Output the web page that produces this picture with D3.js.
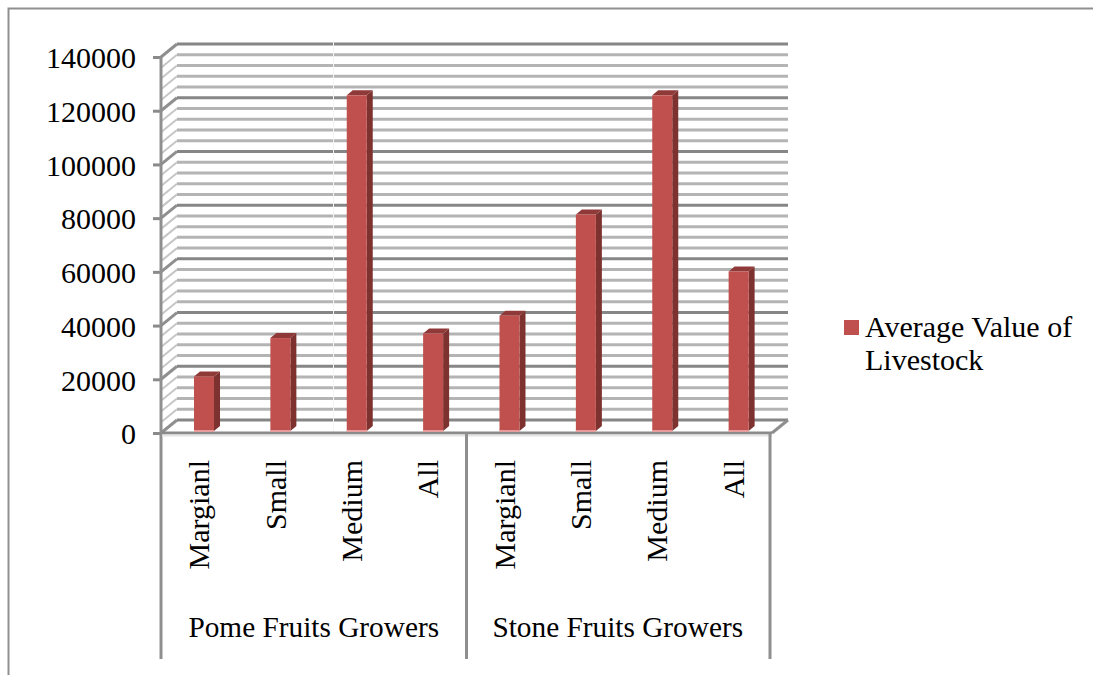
<!DOCTYPE html>
<html>
<head>
<meta charset="utf-8">
<script src="https://cdn.jsdelivr.net/npm/d3@7/dist/d3.min.js"></script>
<style>
html,body{margin:0;padding:0;background:#fff;overflow:hidden}
svg{display:block}
text{font-family:"Liberation Serif",serif;fill:#000}
</style>
</head>
<body>
<svg id="chart" width="1093" height="675"></svg>
<script>
const categories = ["Margianl","Small","Medium","All","Margianl","Small","Medium","All"];
const groups = ["Pome Fruits Growers","Stone Fruits Growers"];
const values = [20300,34600,125000,36300,42900,80600,125000,59400];
const seriesName = ["Average Value of","Livestock"];
const yTicks = [0,20000,40000,60000,80000,100000,120000,140000];
const minorStep = 4000;

const svg = d3.select("#chart");
const plotLeft = 161, plotRight = 772, plotTop = 57, plotBottom = 433, axisEnd = 659;
const depthX = 16, depthY = 13;          // offset of the back wall
const barDX = 6, barDY = 5;              // depth of each column
const fontSize = 30, groupFontSize = 29.3;

const y = d3.scaleLinear().domain([0,140000]).range([plotBottom,plotTop]);
const x = d3.scaleBand().domain(d3.range(categories.length)).range([plotLeft,plotRight]);

// outer frame: only top and left edges fall inside the page
svg.append("path").attr("d","M8.5,675V8.5H1093")
  .attr("fill","none").attr("stroke","#8f8f8f").attr("stroke-width",2);

// wall gridlines, minor first so the major ones sit on top
const minor = d3.range(0,140001,minorStep).filter(v=>v%20000!==0);
const walls = svg.append("g").attr("fill","none");
function gridLine(v,color,w,wDiag,diagColor){
  const py = y(v);
  walls.append("line").attr("x1",plotLeft).attr("y1",py).attr("x2",plotLeft+depthX).attr("y2",py-depthY)
    .attr("stroke",diagColor).attr("stroke-width",wDiag);
  walls.append("line").attr("x1",plotLeft+depthX).attr("y1",py-depthY).attr("x2",plotRight+depthX).attr("y2",py-depthY)
    .attr("stroke",color).attr("stroke-width",w);
}
minor.forEach(v=>gridLine(v,"#b4b4b4",3,2,"#c6c6c6"));
yTicks.forEach(v=>gridLine(v,"#868686",3,3,"#8f8f8f"));

// right edge of the floor
walls.append("line").attr("x1",plotRight).attr("y1",plotBottom).attr("x2",plotRight+depthX).attr("y2",plotBottom-depthY)
  .attr("stroke","#8f8f8f").attr("stroke-width",3);

// thin seam running down the back wall
walls.append("line").attr("x1",333.5).attr("x2",333.5).attr("y1",y(140000)-depthY-3).attr("y2",plotBottom-1)
  .attr("stroke","#f4f4f4").attr("stroke-width",1);

// value axis
const yAxis = d3.axisLeft(y).tickValues(yTicks).tickFormat(d3.format("d")).tickSize(8).tickPadding(17);
const ya = svg.append("g").attr("transform",`translate(${plotLeft},0)`).call(yAxis);
ya.select(".domain").remove();
ya.selectAll("line").attr("stroke","#8a8a8a").attr("stroke-width",3);
ya.selectAll("text").attr("font-size",fontSize).attr("fill","#000")
  .style("font-family",'"Liberation Serif",serif').attr("dy","0.36em");
svg.append("line").attr("x1",plotLeft).attr("x2",plotLeft).attr("y1",plotTop).attr("y2",axisEnd)
  .attr("stroke","#8f8f8f").attr("stroke-width",3);

// floor front edge
svg.append("line").attr("x1",plotLeft).attr("x2",plotRight).attr("y1",plotBottom).attr("y2",plotBottom)
  .attr("stroke","#8a8a8a").attr("stroke-width",3);
svg.append("line").attr("x1",plotLeft+1).attr("x2",plotRight).attr("y1",plotBottom+2.5).attr("y2",plotBottom+2.5)
  .attr("stroke","#e4e4e4").attr("stroke-width",2);

// group separators
[4,8].forEach(i=>{
  const px = i===8 ? plotRight-2 : x(i);
  svg.append("line").attr("x1",px).attr("x2",px).attr("y1",plotBottom).attr("y2",axisEnd)
    .attr("stroke","#8f8f8f").attr("stroke-width",3);
});

// columns: front, side and top faces
const barW = 20, barOffset = 33, base = 431;
const h = v => plotBottom - y(v);
const bars = svg.append("g").selectAll("g").data(values).join("g")
  .attr("transform",(d,i)=>`translate(${x(i)+barOffset},0)`);
bars.append("path").attr("fill","#7d3230")
  .attr("d",d=>`M${barW},${base-h(d)}l${barDX},${-barDY}V${base-barDY}l${-barDX},${barDY}Z`);
bars.append("path").attr("fill","#8f3a38")
  .attr("d",d=>`M0,${base-h(d)}l${barDX},${-barDY}h${barW}l${-barDX},${barDY}Z`);
bars.append("rect").attr("x",0).attr("width",barW).attr("y",d=>base-h(d)).attr("height",d=>h(d))
  .attr("fill","#c0504d");
bars.append("rect").attr("x",0).attr("width",barW).attr("y",base-1).attr("height",2)
  .attr("fill","#e69d9b");

// category labels, rotated
svg.append("g").selectAll("text").data(categories).join("text")
  .attr("font-size",fontSize)
  .attr("text-anchor","end")
  .attr("transform",(d,i)=>`translate(${x(i)+x.bandwidth()/2+10},460) rotate(-90)`)
  .text(d=>d);

// group labels
svg.append("g").selectAll("text").data(groups).join("text")
  .attr("font-size",groupFontSize).attr("text-anchor","middle")
  .attr("x",(d,i)=>x(i*4)+x.bandwidth()*2-i*1.5)
  .attr("y",637)
  .text(d=>d);

// legend
svg.append("rect").attr("x",844).attr("y",320).attr("width",15).attr("height",15).attr("fill","#c0504d");
svg.append("g").selectAll("text").data(seriesName).join("text")
  .attr("font-size",fontSize).attr("x",865).attr("y",(d,i)=>337+i*33).text(d=>d);
</script>
</body>
</html>
